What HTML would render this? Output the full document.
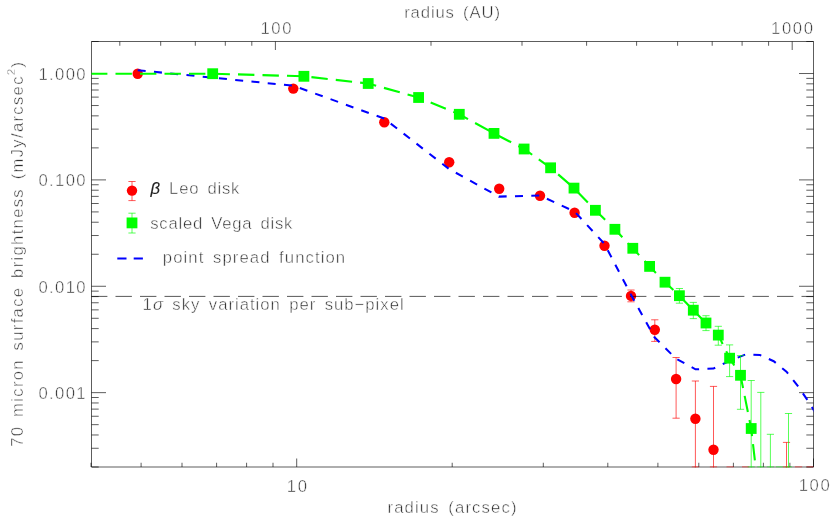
<!DOCTYPE html>
<html lang="en"><head><meta charset="utf-8"><title>70 micron surface brightness profile</title>
<style>html,body{margin:0;padding:0;background:#fff}svg{display:block;will-change:transform}text{font-family:"Liberation Sans",sans-serif;font-size:16.7px;fill:#2e2e2e;stroke:#fff;stroke-width:0.5px}.ax{stroke:#000;stroke-width:.64;fill:none}.re{stroke:#f00;stroke-width:.66;fill:none}.ge{stroke:#0f0;stroke-width:.66;fill:none}</style></head><body>
<svg width="830" height="519" viewBox="0 0 830 519">
<rect width="830" height="519" fill="#fff"/>
<defs><clipPath id="c"><rect x="91.5" y="41.5" width="722.0" height="426.0"/></clipPath></defs>
<path class="ax" d="M91.5 41.5H813.5V467.0H91.5ZM91.0 467.0v-4.25M141.1 467.0v-4.25M182.0 467.0v-4.25M216.6 467.0v-4.25M246.6 467.0v-4.25M273.0 467.0v-4.25M296.7 467.0v-8.50M452.2 467.0v-4.25M543.3 467.0v-4.25M607.8 467.0v-4.25M657.9 467.0v-4.25M698.8 467.0v-4.25M733.4 467.0v-4.25M763.4 467.0v-4.25M789.9 467.0v-4.25M813.5 467.0v-8.50M119.8 41.5v4.25M160.7 41.5v4.25M195.3 41.5v4.25M225.3 41.5v4.25M251.8 41.5v4.25M275.4 41.5v8.50M431.0 41.5v4.25M522.0 41.5v4.25M586.6 41.5v4.25M636.6 41.5v4.25M677.6 41.5v4.25M712.2 41.5v4.25M742.1 41.5v4.25M768.6 41.5v4.25M792.2 41.5v8.50M91.5 467.00h7.20M813.5 467.00h-7.20M91.5 448.27h7.20M813.5 448.27h-7.20M91.5 434.98h7.20M813.5 434.98h-7.20M91.5 424.67h7.20M813.5 424.67h-7.20M91.5 416.25h7.20M813.5 416.25h-7.20M91.5 409.12h7.20M813.5 409.12h-7.20M91.5 402.96h7.20M813.5 402.96h-7.20M91.5 397.51h7.20M813.5 397.51h-7.20M91.5 392.65h14.50M813.5 392.65h-14.50M91.5 360.62h7.20M813.5 360.62h-7.20M91.5 341.89h7.20M813.5 341.89h-7.20M91.5 328.60h7.20M813.5 328.60h-7.20M91.5 318.29h7.20M813.5 318.29h-7.20M91.5 309.87h7.20M813.5 309.87h-7.20M91.5 302.75h7.20M813.5 302.75h-7.20M91.5 296.58h7.20M813.5 296.58h-7.20M91.5 291.14h7.20M813.5 291.14h-7.20M91.5 286.27h14.50M813.5 286.27h-14.50M91.5 254.25h7.20M813.5 254.25h-7.20M91.5 235.52h7.20M813.5 235.52h-7.20M91.5 222.23h7.20M813.5 222.23h-7.20M91.5 211.92h7.20M813.5 211.92h-7.20M91.5 203.50h7.20M813.5 203.50h-7.20M91.5 196.37h7.20M813.5 196.37h-7.20M91.5 190.21h7.20M813.5 190.21h-7.20M91.5 184.76h7.20M813.5 184.76h-7.20M91.5 179.90h14.50M813.5 179.90h-14.50M91.5 147.88h7.20M813.5 147.88h-7.20M91.5 129.14h7.20M813.5 129.14h-7.20M91.5 115.85h7.20M813.5 115.85h-7.20M91.5 105.54h7.20M813.5 105.54h-7.20M91.5 97.12h7.20M813.5 97.12h-7.20M91.5 90.00h7.20M813.5 90.00h-7.20M91.5 83.83h7.20M813.5 83.83h-7.20M91.5 78.39h7.20M813.5 78.39h-7.20M91.5 73.52h14.50M813.5 73.52h-14.50M91.5 41.50h7.20M813.5 41.50h-7.20"/>
<g clip-path="url(#c)">
<path class="re" d="M631.0 290.0V301.8M627.4 290.0h7.2M627.4 301.8h7.2"/>
<path class="re" d="M654.8 319.8V341.4M651.2 319.8h7.2M651.2 341.4h7.2"/>
<path class="re" d="M676.1 357.5V418.2M672.5 357.5h7.2M672.5 418.2h7.2"/>
<path class="re" d="M695.4 381.0V480.0M691.8 381.0h7.2M691.8 467.0h7.2"/>
<path class="re" d="M713.5 386.4V480.0M709.9 386.4h7.2M709.9 467.0h7.2"/>
<path class="re" d="M730.1 470.0V480.0M726.5 470.0h7.2M726.5 467.0h7.2"/>
<path class="re" d="M745.6 470.0V480.0M742.0 470.0h7.2M742.0 467.0h7.2"/>
<path class="re" d="M786.5 442.4V480.0M782.9 442.4h7.2M782.9 467.0h7.2"/>
<path class="re" d="M798.6 470.0V480.0M795.0 470.0h7.2M795.0 467.0h7.2"/>
<path class="re" d="M810.1 470.0V480.0M806.5 470.0h7.2M806.5 467.0h7.2"/>
<circle cx="137.7" cy="73.7" r="5.2" fill="#f00"/>
<circle cx="293.3" cy="88.6" r="5.2" fill="#f00"/>
<circle cx="384.3" cy="122.3" r="5.2" fill="#f00"/>
<circle cx="449.2" cy="162.3" r="5.2" fill="#f00"/>
<circle cx="499.2" cy="188.8" r="5.2" fill="#f00"/>
<circle cx="540.0" cy="195.8" r="5.2" fill="#f00"/>
<circle cx="574.6" cy="212.8" r="5.2" fill="#f00"/>
<circle cx="604.5" cy="245.7" r="5.2" fill="#f00"/>
<circle cx="631.0" cy="295.9" r="5.2" fill="#f00"/>
<circle cx="654.8" cy="329.7" r="5.2" fill="#f00"/>
<circle cx="676.1" cy="379.0" r="5.2" fill="#f00"/>
<circle cx="695.4" cy="418.7" r="5.2" fill="#f00"/>
<circle cx="713.5" cy="449.8" r="5.2" fill="#f00"/>
<path d="M91.0 296.40H813.5" stroke="#000" stroke-width=".66" stroke-dasharray="16.4 8.1" fill="none"/>
<polyline points="137.7,70.2 293.3,85.7 384.3,118.6 448.9,168.9 498.9,196.6 539.9,195.5 574.5,211.5 604.4,243.8 630.9,294.5 654.5,337.3 675.9,358.6 695.5,369.3 713.4,368.6 730.1,360.7 745.6,354.4 760.0,355.0 773.7,361.2 786.5,371.7 798.6,387.0 810.1,404.0 821.0,422.0" fill="none" stroke="#00f" stroke-width="2.05" stroke-dasharray="8 8.33"/>
<path class="ge" d="M679.4 288.5V303.2M675.8 288.5h7.2M675.8 303.2h7.2"/>
<path class="ge" d="M693.3 302.4V318.6M689.7 302.4h7.2M689.7 318.6h7.2"/>
<path class="ge" d="M706.0 315.7V330.6M702.4 315.7h7.2M702.4 330.6h7.2"/>
<path class="ge" d="M718.3 326.3V345.2M714.7 326.3h7.2M714.7 345.2h7.2"/>
<path class="ge" d="M729.6 344.9V376.6M726.0 344.9h7.2M726.0 376.6h7.2"/>
<path class="ge" d="M740.5 355.6V409.3M736.9 355.6h7.2M736.9 409.3h7.2"/>
<path class="ge" d="M751.2 380.5V480.0M747.6 380.5h7.2M747.6 467.0h7.2"/>
<path class="ge" d="M760.8 392.4V480.0M757.2 392.4h7.2M757.2 467.0h7.2"/>
<path class="ge" d="M770.4 434.3V480.0M766.8 434.3h7.2M766.8 467.0h7.2"/>
<path class="ge" d="M779.6 470.0V480.0M776.0 470.0h7.2M776.0 467.0h7.2"/>
<path class="ge" d="M788.5 413.5V480.0M784.9 413.5h7.2M784.9 467.0h7.2"/>
<polyline points="91.0,73.8 212.7,73.7 303.9,76.3 368.2,83.5 418.6,97.5 459.3,114.3 494.0,133.4 524.1,149.0 550.6,167.8 574.0,188.1 595.4,210.3 614.9,229.3 632.8,248.3 649.6,266.4 665.0,282.2 679.4,295.7 693.3,310.2 706.0,323.0 718.3,335.1 729.6,358.2 740.5,375.3 751.2,428.5 760.8,512.0" fill="none" stroke="#0f0" stroke-width="2.1" stroke-dasharray="16.4 8.1"/>
<rect x="207.3" y="68.3" width="10.8" height="10.8" fill="#0f0"/>
<rect x="298.5" y="70.9" width="10.8" height="10.8" fill="#0f0"/>
<rect x="362.8" y="78.1" width="10.8" height="10.8" fill="#0f0"/>
<rect x="413.2" y="92.1" width="10.8" height="10.8" fill="#0f0"/>
<rect x="453.9" y="108.9" width="10.8" height="10.8" fill="#0f0"/>
<rect x="488.6" y="128.0" width="10.8" height="10.8" fill="#0f0"/>
<rect x="518.7" y="143.6" width="10.8" height="10.8" fill="#0f0"/>
<rect x="545.2" y="162.4" width="10.8" height="10.8" fill="#0f0"/>
<rect x="568.6" y="182.7" width="10.8" height="10.8" fill="#0f0"/>
<rect x="590.0" y="204.9" width="10.8" height="10.8" fill="#0f0"/>
<rect x="609.5" y="223.9" width="10.8" height="10.8" fill="#0f0"/>
<rect x="627.4" y="242.9" width="10.8" height="10.8" fill="#0f0"/>
<rect x="644.2" y="261.0" width="10.8" height="10.8" fill="#0f0"/>
<rect x="659.6" y="276.8" width="10.8" height="10.8" fill="#0f0"/>
<rect x="674.0" y="290.3" width="10.8" height="10.8" fill="#0f0"/>
<rect x="687.9" y="304.8" width="10.8" height="10.8" fill="#0f0"/>
<rect x="700.6" y="317.6" width="10.8" height="10.8" fill="#0f0"/>
<rect x="712.9" y="329.7" width="10.8" height="10.8" fill="#0f0"/>
<rect x="724.2" y="352.8" width="10.8" height="10.8" fill="#0f0"/>
<rect x="735.1" y="369.9" width="10.8" height="10.8" fill="#0f0"/>
<rect x="745.8" y="423.1" width="10.8" height="10.8" fill="#0f0"/>
</g>
<text x="404.2" y="17.5" text-anchor="start" letter-spacing="0.86" word-spacing="2.8">radius (AU)</text>
<text x="387.5" y="512.8" text-anchor="start" letter-spacing="1.13" word-spacing="2.8">radius (arcsec)</text>
<text x="260.4" y="34.0" text-anchor="start" letter-spacing="1.60" word-spacing="2.8">100</text>
<text x="771.0" y="34.0" text-anchor="start" letter-spacing="1.60" word-spacing="2.8">1000</text>
<text x="286.8" y="491.6" text-anchor="start" letter-spacing="1.60" word-spacing="2.8">10</text>
<text x="798.7" y="491.3" text-anchor="start" letter-spacing="1.60" word-spacing="2.8">100</text>
<text x="86.8" y="79.9" text-anchor="end" letter-spacing="1.30" word-spacing="2.8">1.000</text>
<text x="86.8" y="186.3" text-anchor="end" letter-spacing="1.30" word-spacing="2.8">0.100</text>
<text x="86.8" y="292.7" text-anchor="end" letter-spacing="1.30" word-spacing="2.8">0.010</text>
<text x="86.8" y="399.0" text-anchor="end" letter-spacing="1.30" word-spacing="2.8">0.001</text>
<text transform="translate(22.9 446.8) rotate(-90)" letter-spacing="1.29" word-spacing="2.8">70 micron surface brightness (mJy/arcsec<tspan dy="-7.5" font-size="11.7">2</tspan><tspan dy="7.5">)</tspan></text>
<path class="re" d="M132.0 181.5V200.6M128.4 181.5h7.2M128.4 200.6h7.2"/>
<circle cx="132" cy="190.6" r="5.2" fill="#f00"/>
<path class="ge" d="M132.0 213.2V233.0M128.4 213.2h7.2M128.4 233.0h7.2"/>
<rect x="126.6" y="217.5" width="10.8" height="10.8" fill="#0f0"/>
<path d="M117.3 258.5H143" stroke="#00f" stroke-width="1.8" stroke-dasharray="9.2 7.2" fill="none"/>
<text x="150.6" y="193.9" text-anchor="start" letter-spacing="0.76" word-spacing="2.8"><tspan font-style="italic" stroke="#222" stroke-width="0.12" fill="#222">β</tspan> Leo disk</text>
<text x="150.2" y="228.9" text-anchor="start" letter-spacing="0.76" word-spacing="2.8">scaled Vega disk</text>
<text x="162.8" y="262.5" text-anchor="start" letter-spacing="1.09" word-spacing="2.8">point spread function</text>
<text x="142.6" y="309.9" text-anchor="start" letter-spacing="0.99" word-spacing="2.8">1<tspan font-style="italic">σ</tspan> sky variation per sub−pixel</text>
</svg></body></html>
